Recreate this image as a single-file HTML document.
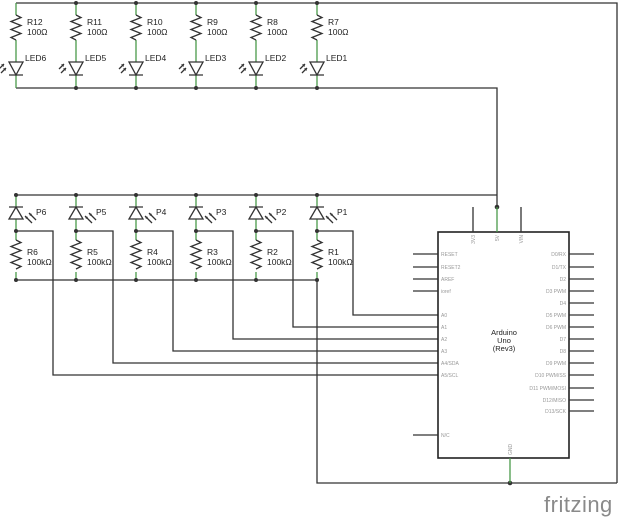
<!DOCTYPE html>
<html><head><meta charset="utf-8"><style>
html,body{margin:0;padding:0;background:#fff;}
svg{display:block;font-family:"Liberation Sans",sans-serif;}
.w{stroke:#333;stroke-width:1.3;fill:none}
.g{stroke:#4a9a4a;stroke-width:1.3;fill:none}
.t{font-size:8.5px;fill:#222}
.p{font-size:5px;fill:#999}
</style></head><body>
<svg width="620" height="517" viewBox="0 0 620 517">
<defs>
<g id="led">
 <path class="g" d="M0,3V15M0,40V62M0,75V88"/>
 <path class="w" d="M0,15l5,2.5l-10,4l10,4l-10,4l10,4l-10,4l5,2.5"/>
 <path class="w" d="M-7,62h14l-7,13z M-7,75h14"/>
 <path class="w" d="M-12,64l-5,5M-10,68l-5,5" stroke-width="1"/>
 <path d="M-12,64l-3,0.5l2.5,2.5zM-10,68l-3,0.5l2.5,2.5z" fill="#333"/>
</g>
<g id="pd">
 <path class="g" d="M0,195V207M0,219V240M0,272V280"/>
 <path class="w" d="M-7,207h14M-7,219h14l-7,-12z"/>
 <path class="w" d="M0,240l5,2.5l-10,4l10,4l-10,4l10,4l-10,4l10,4l-5,2.5"/>
 <path class="w" d="M9,216l7,7M13,213l7,7" stroke-width="1"/>
 <path d="M9,216l1,3l2,-2zM13,213l1,3l2,-2z" fill="#333"/>
</g>
</defs>

<!-- top LED section rails -->
<path class="w" d="M16,3H617V483M16,88H497V207"/>
<use href="#led" x="16"/><use href="#led" x="76"/><use href="#led" x="136"/>
<use href="#led" x="196"/><use href="#led" x="256"/><use href="#led" x="317"/>
<g fill="#333">
<circle cx="76" cy="3" r="2"/><circle cx="136" cy="3" r="2"/><circle cx="196" cy="3" r="2"/><circle cx="256" cy="3" r="2"/><circle cx="317" cy="3" r="2"/>
<circle cx="76" cy="88" r="2"/><circle cx="136" cy="88" r="2"/><circle cx="196" cy="88" r="2"/><circle cx="256" cy="88" r="2"/><circle cx="317" cy="88" r="2"/>
</g>
<g class="t">
<text x="27" y="25">R12</text><text x="27" y="35">100Ω</text><text x="25" y="61">LED6</text>
<text x="87" y="25">R11</text><text x="87" y="35">100Ω</text><text x="85" y="61">LED5</text>
<text x="147" y="25">R10</text><text x="147" y="35">100Ω</text><text x="145" y="61">LED4</text>
<text x="207" y="25">R9</text><text x="207" y="35">100Ω</text><text x="205" y="61">LED3</text>
<text x="267" y="25">R8</text><text x="267" y="35">100Ω</text><text x="265" y="61">LED2</text>
<text x="328" y="25">R7</text><text x="328" y="35">100Ω</text><text x="326" y="61">LED1</text>
</g>

<!-- photodiode section -->
<path class="w" d="M16,195H497M16,280H317V483H617"/>
<use href="#pd" x="16"/><use href="#pd" x="76"/><use href="#pd" x="136"/>
<use href="#pd" x="196"/><use href="#pd" x="256"/><use href="#pd" x="317"/>
<path class="w" d="M317,231H353V315H438M256,231H293V327H438M196,231H233V339H438M136,231H173V351H438M76,231H113V363H438M16,231H53V375H438"/>
<g fill="#333">
<circle cx="16" cy="195" r="2"/><circle cx="76" cy="195" r="2"/><circle cx="136" cy="195" r="2"/><circle cx="196" cy="195" r="2"/><circle cx="256" cy="195" r="2"/><circle cx="317" cy="195" r="2"/>
<circle cx="16" cy="231" r="2"/><circle cx="76" cy="231" r="2"/><circle cx="136" cy="231" r="2"/><circle cx="196" cy="231" r="2"/><circle cx="256" cy="231" r="2"/><circle cx="317" cy="231" r="2"/>
<circle cx="16" cy="280" r="2"/><circle cx="76" cy="280" r="2"/><circle cx="136" cy="280" r="2"/><circle cx="196" cy="280" r="2"/><circle cx="256" cy="280" r="2"/><circle cx="317" cy="280" r="2"/>
<circle cx="497" cy="207" r="2.3"/><circle cx="510" cy="483" r="2.3"/>
</g>
<g class="t">
<text x="36" y="215">P6</text><text x="27" y="255">R6</text><text x="27" y="265">100kΩ</text>
<text x="96" y="215">P5</text><text x="87" y="255">R5</text><text x="87" y="265">100kΩ</text>
<text x="156" y="215">P4</text><text x="147" y="255">R4</text><text x="147" y="265">100kΩ</text>
<text x="216" y="215">P3</text><text x="207" y="255">R3</text><text x="207" y="265">100kΩ</text>
<text x="276" y="215">P2</text><text x="267" y="255">R2</text><text x="267" y="265">100kΩ</text>
<text x="337" y="215">P1</text><text x="328" y="255">R1</text><text x="328" y="265">100kΩ</text>
</g>

<!-- Arduino -->
<rect x="438" y="232" width="131" height="226" fill="none" stroke="#222" stroke-width="1.6"/>
<path class="w" stroke="#888" d="M473,207V232M521,207V232M413,254H438M413,267H438M413,279H438M413,291H438M413,435H438"/>
<path class="w" stroke="#888" d="M569,254H594M569,267H594M569,279H594M569,291H594M569,303H594M569,315H594M569,327H594M569,339H594M569,351H594M569,363H594M569,375H594M569,388H594M569,400H594M569,411H594"/>
<path class="g" d="M497,207V232M510,458V483"/>
<g class="p">
<text x="441" y="256">RESET</text><text x="441" y="269">RESET2</text><text x="441" y="281">AREF</text><text x="441" y="293">ioref</text>
<text x="441" y="317">A0</text><text x="441" y="329">A1</text><text x="441" y="341">A2</text><text x="441" y="353">A3</text><text x="441" y="365">A4/SDA</text><text x="441" y="377">A5/SCL</text><text x="441" y="437">N/C</text>
<g text-anchor="end">
<text x="566" y="256">D0/RX</text><text x="566" y="269">D1/TX</text><text x="566" y="281">D2</text><text x="566" y="293">D3 PWM</text><text x="566" y="305">D4</text><text x="566" y="317">D5 PWM</text><text x="566" y="329">D6 PWM</text><text x="566" y="341">D7</text><text x="566" y="353">D8</text><text x="566" y="365">D9 PWM</text><text x="566" y="377">D10 PWM/SS</text><text x="566" y="390">D11 PWM/MOSI</text><text x="566" y="402">D12/MISO</text><text x="566" y="413">D13/SCK</text>
</g>
<text transform="translate(475,235) rotate(-90)" text-anchor="end">3V3</text>
<text transform="translate(499,235) rotate(-90)" text-anchor="end">5V</text>
<text transform="translate(523,235) rotate(-90)" text-anchor="end">VIN</text>
<text transform="translate(512,455) rotate(-90)">GND</text>
</g>
<g font-size="7.5" fill="#222" text-anchor="middle">
<text x="504" y="335">Arduino</text><text x="504" y="343">Uno</text><text x="504" y="351">(Rev3)</text>
</g>
<text x="544" y="512" font-size="22" fill="#8a8a8a" letter-spacing="0.5">fritzing</text>
</svg>
</body></html>
